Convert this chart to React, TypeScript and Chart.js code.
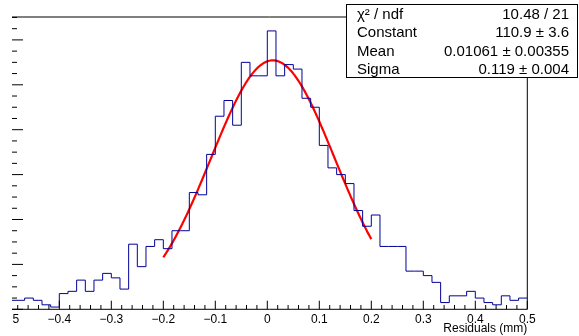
import React, { useEffect, useRef } from "react";
import { Chart, registerables } from "chart.js";

Chart.register(...registerables);

// Histogram definition (ROOT TH1 with 60 bins on [-0.5, 0.5])
const histMin = -0.5;
const histMax = 0.5;
const binCounts = [
  4, 4, 5, 4, 2, 1, 7, 8, 13, 8,
  13, 16, 14, 9, 29, 19, 28, 31, 27, 35,
  35, 52, 51, 69, 86, 93, 82, 110, 104, 104,
  124, 104, 109, 107, 94, 90, 73, 63, 60, 56,
  44, 37, 42, 28, 28, 28, 17, 17, 15, 12,
  3, 6, 6, 8, 5, 3, 2, 6, 4, 5,
];

// Gaussian fit parameters (from the stats box)
const fitConstant = 110.9;
const fitMean = 0.01061;
const fitSigma = 0.119;
const fitRange = [-0.2, 0.2];

// Axis
const xVisibleMin = -0.491;
const yMax = 130.2;
const xMajorTicks = [-0.5, -0.4, -0.3, -0.2, -0.1, 0, 0.1, 0.2, 0.3, 0.4, 0.5];
const xTickLabels = ["−0.5", "−0.4", "−0.3", "−0.2", "−0.1", "0", "0.1", "0.2", "0.3", "0.4", "0.5"];
const xMinorStep = 0.02;
const yMajorTicks = [0, 20, 40, 60, 80, 100, 120];
const yMinorStep = 5;
const xTitle = "Residuals (mm)";

// Stats box
const statNames = ["χ² / ndf", "Constant", "Mean", "Sigma"];
const statValues = ["10.48 / 21", "110.9 ± 3.6", "0.01061 ± 0.00355", "0.119 ± 0.004"];

const FONT = "'Liberation Sans', Arial, Helvetica, sans-serif";

export default function App() {
  const canvasRef = useRef<HTMLCanvasElement | null>(null);

  useEffect(() => {
    document.body.style.margin = "0";
    document.body.style.overflow = "hidden";
    const canvas = canvasRef.current;
    if (!canvas) return;

    const nBins = binCounts.length;
    const bw = (histMax - histMin) / nBins;
    const histPoints: { x: number; y: number }[] = binCounts.map((c, i) => ({ x: histMin + i * bw, y: c }));
    histPoints.push({ x: histMax, y: binCounts[nBins - 1] });

    const fitPoints: { x: number; y: number }[] = [];
    const nf = 200;
    for (let i = 0; i <= nf; i++) {
      const x = fitRange[0] + ((fitRange[1] - fitRange[0]) * i) / nf;
      const z = (x - fitMean) / fitSigma;
      fitPoints.push({ x, y: fitConstant * Math.exp(-0.5 * z * z) });
    }

    const decor = {
      id: "rootDecor",
      afterDraw(chart: any) {
        const ctx = chart.ctx as CanvasRenderingContext2D;
        const xs = chart.scales.x;
        const ys = chart.scales.y;
        const a = chart.chartArea;
        ctx.save();
        ctx.strokeStyle = "#000";
        ctx.lineWidth = 1;
        // frame: top, right, bottom
        ctx.beginPath();
        ctx.moveTo(a.left, a.top);
        ctx.lineTo(a.right, a.top);
        ctx.lineTo(a.right, a.bottom);
        ctx.lineTo(a.left, a.bottom);
        ctx.stroke();

        // x ticks (inward, upward)
        ctx.beginPath();
        for (let v = xMajorTicks[0]; v <= histMax + 1e-9; v += xMinorStep) {
          const px = xs.getPixelForValue(v);
          if (px < a.left - 0.5) continue;
          const isMajor = xMajorTicks.some((t) => Math.abs(t - v) < 1e-6);
          const len = isMajor ? 8.6 : 4.3;
          ctx.moveTo(px, a.bottom);
          ctx.lineTo(px, a.bottom - len);
        }
        // y ticks (inward, rightward)
        for (let v = 0; v <= yMax; v += yMinorStep) {
          const py = ys.getPixelForValue(v);
          const isMajor = yMajorTicks.includes(v);
          const len = isMajor ? 11 : 5;
          ctx.moveTo(a.left, py);
          ctx.lineTo(a.left + len, py);
        }
        ctx.stroke();

        // x tick labels (clipped at left edge of frame)
        ctx.save();
        ctx.beginPath();
        ctx.rect(a.left, 0, chart.width - a.left, chart.height);
        ctx.clip();
        ctx.fillStyle = "#000";
        ctx.font = `12px ${FONT}`;
        ctx.textAlign = "center";
        ctx.textBaseline = "alphabetic";
        xMajorTicks.forEach((t, i) => {
          ctx.fillText(xTickLabels[i], xs.getPixelForValue(t), a.bottom + 13.4);
        });
        ctx.restore();

        // axis title
        ctx.fillStyle = "#000";
        ctx.font = `12px ${FONT}`;
        ctx.textAlign = "right";
        ctx.fillText(xTitle, a.right, 332.3);

        // stats box
        const bx = 346.5, by = 4.5, bwid = 231, bh = 73;
        ctx.fillStyle = "#fff";
        ctx.fillRect(bx, by, bwid, bh);
        ctx.strokeStyle = "#000";
        ctx.strokeRect(bx, by, bwid, bh);
        ctx.fillStyle = "#000";
        ctx.font = `15px ${FONT}`;
        const baselines = [18.8, 37.2, 55.5, 73.6];
        statNames.forEach((n, i) => {
          ctx.textAlign = "left";
          ctx.fillText(n, 357, baselines[i]);
          ctx.textAlign = "right";
          ctx.fillText(statValues[i], 569, baselines[i]);
        });
        ctx.restore();
      },
    };

    const chart = new Chart(canvas, {
      type: "line",
      data: {
        datasets: [
          {
            data: histPoints,
            stepped: true,
            borderColor: "#000099",
            borderWidth: 1,
            pointRadius: 0,
            fill: false,
          },
          {
            data: fitPoints,
            borderColor: "#ff0000",
            borderWidth: 2.2,
            pointRadius: 0,
            fill: false,
            tension: 0,
          },
        ],
      },
      options: {
        responsive: false,
        animation: false,
        events: [],
        layout: { padding: { left: 12, right: 51.7, top: 17, bottom: 26.7 } },
        scales: {
          x: { type: "linear", min: xVisibleMin, max: histMax, display: false },
          y: { type: "linear", min: 0, max: yMax, display: false },
        },
        plugins: { legend: { display: false }, tooltip: { enabled: false } },
      },
      plugins: [decor],
    });

    return () => chart.destroy();
  }, []);

  return (
    <div style={{ width: 579, height: 336, position: "relative" }}>
      <canvas ref={canvasRef} width={579} height={336} style={{ display: "block" }} />
    </div>
  );
}
